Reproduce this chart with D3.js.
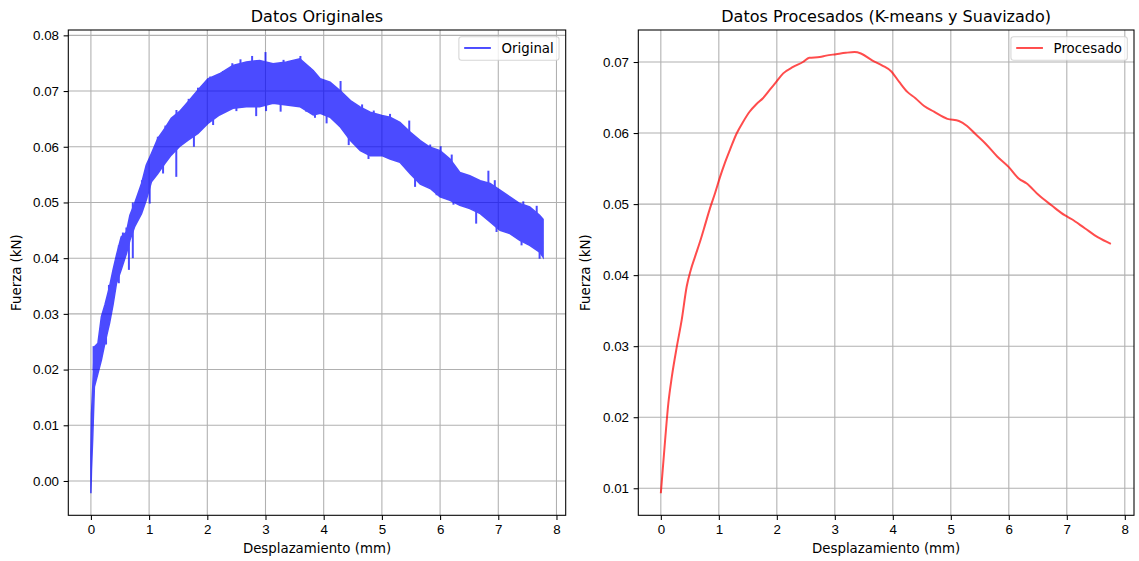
<!DOCTYPE html>
<html lang="es">
<head>
<meta charset="utf-8" />
<title>Datos Originales · Datos Procesados</title>
<style>
html,body{margin:0;background:#fff}
svg{display:block;font-family:"DejaVu Sans",sans-serif}
.grid line{stroke:#b0b0b0;stroke-width:1.07}
.tick text{font-size:13.33px;fill:#000}
.tick line{stroke:#000;stroke-width:1.07}
</style>
<script src="https://cdn.jsdelivr.net/npm/d3@7/dist/d3.min.js"></script>
</head>
<body>
<svg id="fig" width="1139" height="561"></svg>

<script>
/* ------------------------------ data ---------------------------------- */
// raw signal: read as upper / lower edge of the noisy band (mm, kN)
const origX     = [0, 0.01, 0.03, 0.06, 0.12, 0.18, 0.24, 0.32, 0.38, 0.44, 0.52, 0.61, 0.67, 0.75, 0.87,
                   0.95, 1.04, 1.15, 1.27, 1.38, 1.52, 1.67, 1.84, 2.01, 2.21, 2.44, 2.67, 2.90, 3.13,
                   3.36, 3.59, 3.82, 3.94, 4.11, 4.29, 4.46, 4.63, 4.80, 5.00, 5.14, 5.31, 5.49, 5.66,
                   5.83, 6.00, 6.17, 6.34, 6.51, 6.69, 6.86, 7.03, 7.20, 7.37, 7.54, 7.71, 7.77];
const origUpper = [0.0050, 0.0120, 0.0165, 0.0241, 0.0247, 0.0295, 0.0316, 0.0349, 0.0379, 0.0406, 0.0438,
                   0.0447, 0.0477, 0.0498, 0.0534, 0.0567, 0.0588, 0.0615, 0.0633, 0.0651, 0.0663, 0.0681,
                   0.0702, 0.0722, 0.0731, 0.0746, 0.0752, 0.0755, 0.0749, 0.0752, 0.0758, 0.0737, 0.0722,
                   0.0716, 0.0700, 0.0683, 0.0671, 0.0662, 0.0656, 0.0653, 0.0644, 0.0626, 0.0611, 0.0599,
                   0.0593, 0.0578, 0.0554, 0.0548, 0.0539, 0.0534, 0.0522, 0.0510, 0.0498, 0.0492, 0.0477,
                   0.0470];
const origLower = [-0.0022, 0.0020, 0.0074, 0.0169, 0.0193, 0.0217, 0.0247, 0.0283, 0.0316, 0.0355, 0.0379,
                   0.0408, 0.0432, 0.0456, 0.0480, 0.0504, 0.0537, 0.0552, 0.0570, 0.0585, 0.0600, 0.0612,
                   0.0624, 0.0642, 0.0657, 0.0669, 0.0672, 0.0672, 0.0678, 0.0675, 0.0672, 0.0657, 0.0660,
                   0.0653, 0.0635, 0.0611, 0.0593, 0.0584, 0.0584, 0.0578, 0.0572, 0.0551, 0.0533, 0.0525,
                   0.0510, 0.0504, 0.0495, 0.0489, 0.0480, 0.0465, 0.0450, 0.0444, 0.0432, 0.0423, 0.0411,
                   0.0402];
// spikes sticking out above / below the band (x, tip value)
const spikeUpX = [0.046, 0.195, 0.31, 0.407, 0.48, 0.55, 0.61, 0.72, 0.877, 0.98, 1.15, 1.28, 1.47,
                  1.68, 1.84, 2.05, 2.27, 2.43, 2.57, 2.77, 3.00, 3.31, 3.60, 3.76, 4.29, 4.66, 4.86,
                  5.14, 5.47, 5.83, 6.01, 6.20, 6.83, 6.94, 7.43, 7.66];
const spikeUpY = [0.0242, 0.0298, 0.0352, 0.0384, 0.0423, 0.0446, 0.0455, 0.0500, 0.0540, 0.0572,
                  0.0618, 0.0638, 0.0666, 0.0686, 0.0706, 0.0726, 0.0736, 0.0750, 0.0757, 0.0763, 0.0770,
                  0.0756, 0.0763, 0.0742, 0.0718, 0.0676, 0.0665, 0.0659, 0.0647, 0.0604, 0.0601, 0.0586,
                  0.0557, 0.0540, 0.0502, 0.0494];
const spikeDnX = [0.092, 0.26, 0.48, 0.653, 0.72, 1.01, 1.24, 1.467, 1.77, 2.10, 2.50, 2.84, 3.01,
                  3.26, 3.70, 3.85, 4.05, 4.43, 4.77, 5.57, 5.94, 6.23, 6.62, 6.97, 7.40, 7.71];
const spikeDnY = [0.0187, 0.0245, 0.0355, 0.0379, 0.0400, 0.0498, 0.0552, 0.0546, 0.0600, 0.0639,
                  0.0664, 0.0655, 0.0664, 0.0663, 0.0663, 0.0652, 0.0642, 0.0603, 0.0578, 0.0528, 0.0513,
                  0.0496, 0.0462, 0.0447, 0.0423, 0.0399];

// processed (k-means + smoothing)
const procX = [0, 0.074, 0.13, 0.19, 0.275, 0.36, 0.446, 0.515, 0.59, 0.675, 0.76, 0.847, 0.933, 1.02,
               1.10, 1.19, 1.305, 1.42, 1.53, 1.65, 1.76, 1.88, 1.99, 2.11, 2.28, 2.45, 2.56, 2.74, 2.85,
               3.02, 3.19, 3.34, 3.45, 3.65, 3.82, 3.97, 4.11, 4.25, 4.39, 4.54, 4.71, 4.94, 5.14, 5.28,
               5.42, 5.60, 5.80, 6.00, 6.17, 6.31, 6.51, 6.74, 6.97, 7.08, 7.31, 7.54, 7.76];
const procY = [0.0093, 0.0168, 0.0220, 0.0257, 0.0299, 0.0337, 0.0384, 0.0407, 0.0426, 0.0447, 0.0470,
               0.0494, 0.0515, 0.0538, 0.0557, 0.0576, 0.0599, 0.0616, 0.0630, 0.0641, 0.0649, 0.0661,
               0.0672, 0.0684, 0.0693, 0.0700, 0.0706, 0.0707, 0.0709, 0.0711, 0.0713, 0.0714, 0.0712,
               0.0702, 0.0695, 0.0687, 0.0672, 0.0658, 0.0649, 0.0638, 0.0630, 0.0620, 0.0617, 0.0610,
               0.0599, 0.0585, 0.0567, 0.0552, 0.0536, 0.0529, 0.0513, 0.0498, 0.0484, 0.0479, 0.0466,
               0.0453, 0.0444];

const xTicks      = [0, 1, 2, 3, 4, 5, 6, 7, 8];
const leftYTicks  = [0, 0.01, 0.02, 0.03, 0.04, 0.05, 0.06, 0.07, 0.08];
const rightYTicks = [0.01, 0.02, 0.03, 0.04, 0.05, 0.06, 0.07];

/* ------------------------------ helpers ------------------------------- */
const svg = d3.select("#fig");
const FS = 13.33, TICK = 4.67;

// matplotlib-style 5% margins
function pad(lo, hi) { const r = hi - lo; return [lo - r * 0.05, hi + r * 0.05]; }

function panel(box, yDomain, yTicks, title) {
  const x = d3.scaleLinear().domain(pad(0, d3.max([d3.max(origX), d3.max(procX)]))).range([box.x0, box.x1]);
  const y = d3.scaleLinear().domain(yDomain).range([box.y1, box.y0]);

  const g = svg.append("g");
  const grid = g.append("g").attr("class", "grid");
  grid.selectAll(".gx").data(xTicks).enter().append("line")
      .attr("x1", d => x(d)).attr("x2", d => x(d)).attr("y1", box.y0).attr("y2", box.y1);
  grid.selectAll(".gy").data(yTicks).enter().append("line")
      .attr("x1", box.x0).attr("x2", box.x1).attr("y1", d => y(d)).attr("y2", d => y(d));

  g.append("g").attr("transform", `translate(0,${box.y1})`)
   .call(d3.axisBottom(x).tickValues(xTicks).tickFormat(d3.format("d"))
          .tickSize(TICK).tickPadding(TICK).tickSizeOuter(0))
   .call(a => a.select(".domain").remove());
  g.append("g").attr("transform", `translate(${box.x0},0)`)
   .call(d3.axisLeft(y).tickValues(yTicks).tickFormat(d3.format(".2f"))
          .tickSize(TICK).tickPadding(TICK).tickSizeOuter(0))
   .call(a => a.select(".domain").remove());
  g.selectAll(".tick text").attr("font-family", null).attr("font-size", null);

  const cx = (box.x0 + box.x1) / 2, cy = (box.y0 + box.y1) / 2;
  g.append("text").attr("x", cx).attr("y", 22).attr("text-anchor", "middle")
   .attr("font-size", 16).text(title);
  g.append("text").attr("x", cx).attr("y", 553).attr("text-anchor", "middle")
   .attr("font-size", FS).text("Desplazamiento (mm)");
  g.append("text").attr("transform", `translate(${box.ylab},${cy}) rotate(-90)`)
   .attr("text-anchor", "middle").attr("font-size", FS).text("Fuerza (kN)");

  return {x, y, g};
}

function legend(p, box, label, color) {
  const lg = p.g.append("g");
  const r = lg.append("rect").attr("rx", 2.7).attr("fill", "#fff").attr("fill-opacity", 0.8)
              .attr("stroke", "#cccccc").attr("stroke-opacity", 0.8).attr("stroke-width", 1.07);
  const t = lg.append("text").attr("font-size", FS).text(label);
  const w = 5.3 + 26.7 + 10.7 + t.node().getComputedTextLength() + 5.3;
  const left = box.x1 - 6.67 - w, top = box.y0 + 6.67;
  r.attr("x", left).attr("y", top).attr("width", w).attr("height", 23.6);
  t.attr("x", left + 42.7).attr("y", top + 16.7);
  lg.append("line").attr("x1", left + 5.3).attr("x2", left + 32)
    .attr("y1", top + 11.3).attr("y2", top + 11.3)
    .attr("stroke", color).attr("stroke-opacity", 0.7).attr("stroke-width", 2);
}

function frame(p, box) {
  p.g.append("rect").attr("x", box.x0).attr("y", box.y0)
     .attr("width", box.x1 - box.x0).attr("height", box.y1 - box.y0)
     .attr("fill", "none").attr("stroke", "#000").attr("stroke-width", 1.07);
}

/* --------------------------- left: original --------------------------- */
const boxL = {x0: 68.3, x1: 565.7, y0: 30, y1: 515.3, ylab: 20.7};
const L = panel(boxL,
  pad(d3.min([d3.min(origLower), d3.min(spikeDnY)]), d3.max([d3.max(origUpper), d3.max(spikeUpY)])),
  leftYTicks, "Datos Originales");

const band = L.g.append("g").attr("opacity", 0.7);
const idx = d3.range(origX.length);
band.append("path")
    .attr("d", d3.area().x(i => L.x(origX[i])).y0(i => L.y(origLower[i])).y1(i => L.y(origUpper[i]))(idx))
    .attr("fill", "blue").attr("stroke", "blue").attr("stroke-width", 1.5);

// spikes start inside the band (edge looked up from the envelope)
const upAt = d3.scaleLinear().domain(origX).range(origUpper);
const dnAt = d3.scaleLinear().domain(origX).range(origLower);
band.selectAll(".up").data(d3.range(spikeUpX.length)).enter().append("line")
    .attr("x1", i => L.x(spikeUpX[i])).attr("x2", i => L.x(spikeUpX[i]))
    .attr("y1", i => L.y(upAt(spikeUpX[i])) + 4).attr("y2", i => L.y(spikeUpY[i]))
    .attr("stroke", "blue").attr("stroke-width", 2);
band.selectAll(".dn").data(d3.range(spikeDnX.length)).enter().append("line")
    .attr("x1", i => L.x(spikeDnX[i])).attr("x2", i => L.x(spikeDnX[i]))
    .attr("y1", i => L.y(dnAt(spikeDnX[i])) - 4).attr("y2", i => L.y(spikeDnY[i]))
    .attr("stroke", "blue").attr("stroke-width", 2);
frame(L, boxL);
legend(L, boxL, "Original", "blue");

/* --------------------------- right: processed ------------------------- */
const boxR = {x0: 638.3, x1: 1134, y0: 30, y1: 515.3, ylab: 589.7};
const R = panel(boxR, pad(d3.min(procY), d3.max(procY)), rightYTicks,
                "Datos Procesados (K-means y Suavizado)");

R.g.append("path")
   .attr("d", d3.line().x(i => R.x(procX[i])).y(i => R.y(procY[i])).curve(d3.curveMonotoneX)(d3.range(procX.length)))
   .attr("fill", "none").attr("stroke", "red").attr("stroke-opacity", 0.7).attr("stroke-width", 2);
frame(R, boxR);
legend(R, boxR, "Procesado", "red");
</script>
</body>
</html>
